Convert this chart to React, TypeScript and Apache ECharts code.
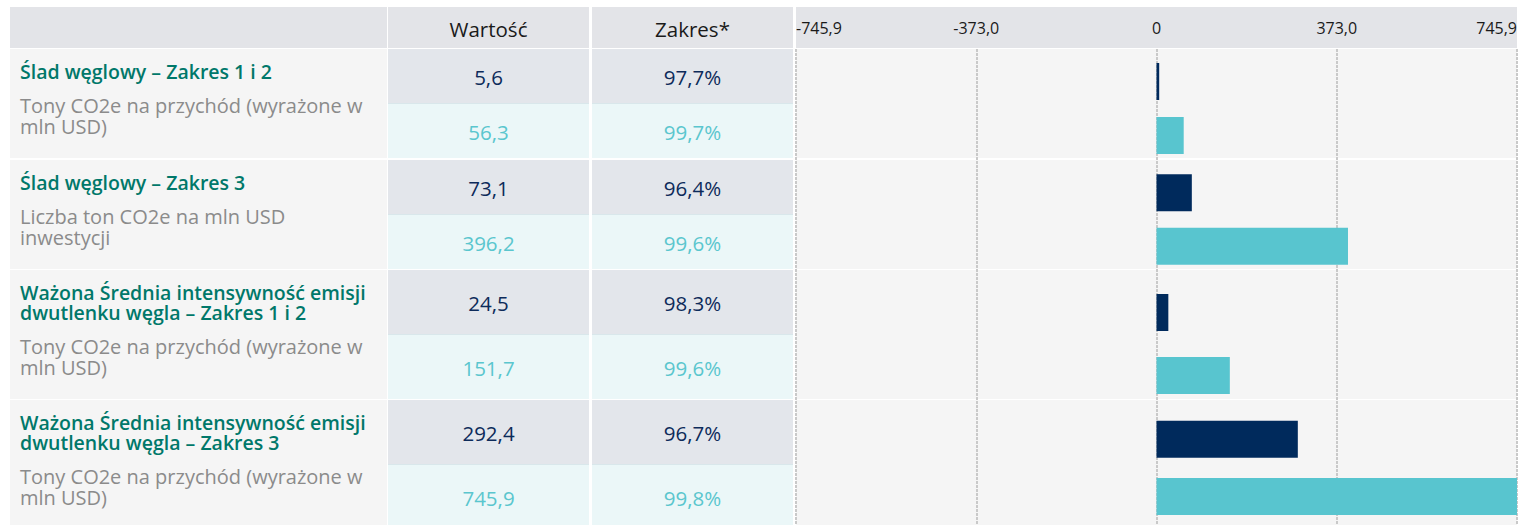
import React, { useEffect, useRef } from "react";
import * as echarts from "echarts";

// ---------- data ----------
const metricTitles = [
  "Ślad węglowy – Zakres 1 i 2",
  "Ślad węglowy – Zakres 3",
  "Ważona Średnia intensywność emisji\ndwutlenku węgla – Zakres 1 i 2",
  "Ważona Średnia intensywność emisji\ndwutlenku węgla – Zakres 3",
];
const metricUnits = [
  "Tony CO2e na przychód (wyrażone w\nmln USD)",
  "Liczba ton CO2e na mln USD\ninwestycji",
  "Tony CO2e na przychód (wyrażone w\nmln USD)",
  "Tony CO2e na przychód (wyrażone w\nmln USD)",
];
const columnHeaders = ["Wartość", "Zakres*"];
const rowCategories = ["Fundusz", "Benchmark"];
const fundValues = [5.6, 73.1, 24.5, 292.4];
const benchmarkValues = [56.3, 396.2, 151.7, 745.9];
const fundCoverage = [97.7, 96.4, 98.3, 96.7];
const benchmarkCoverage = [99.7, 99.6, 99.6, 99.8];
const axisMax = 745.9;
const tickLabels = ["-745,9", "-373,0", "0", "373,0", "745,9"];

// ---------- layout / styles ----------
const W = 1527;
const H = 525;
const LEFT_X = 10, LEFT_W = 377;
const VAL_X = 388, VAL_W = 201;
const COV_X = 592, COV_W = 201;
const CHART_X = 796, CHART_W = 721;
const HEADER_Y = 7, HEADER_H = 41;
const groupTops = [49, 160, 270, 400];
const groupHeights = [109, 109, 129, 129];
const darkHeights = [54, 54, 64, 64];
const barGridTops = [54.5, 166, 281, 410.5];
const barGridHeights = [108, 107, 126, 128];

const FONT = "'Open Sans', 'Noto Sans', sans-serif";
const SIZE_TITLE = 19.5;
const SIZE_UNIT = 20;
const SIZE_CELL = 20.5;
const SIZE_AXIS = 16;
const C_HEADER = "#e3e4e8";
const C_LEFT = "#f5f5f5";
const C_DARKCELL = "#e3e6eb";
const C_LIGHTCELL = "#ebf7f8";
const C_SEP = "#d9e7eb";
const C_CHARTBG = "#f5f5f5";
const C_TITLE = "#00786a";
const C_UNIT = "#8b8b8b";
const C_DARK = "#002a5c";
const C_LIGHT = "#58c5cf";
const C_DARKTXT = "#0d2b5a";
const C_LIGHTTXT = "#5ac6ce";

const fmt = (v: number) => v.toFixed(1).replace(".", ",");

function rect(x: number, y: number, w: number, h: number, fill: string) {
  return { type: "rect", z: 0, silent: true, shape: { x, y, width: w, height: h }, style: { fill } };
}
function text(str: string, x: number, y: number, o: any) {
  return {
    type: "text",
    z: 10,
    silent: true,
    x,
    y,
    style: {
      text: str,
      fontFamily: FONT,
      fontSize: o.size,
      fontWeight: o.weight || "normal",
      fill: o.color,
      align: o.align || "left",
      textAlign: o.align || "left",
      verticalAlign: o.valign || "middle",
      textVerticalAlign: o.valign || "middle",
      lineHeight: o.lh,
    },
  };
}

export default function App() {
  const ref = useRef<HTMLDivElement>(null);
  useEffect(() => {
    if (!ref.current) return;
    const chart = echarts.init(ref.current, null, { renderer: "svg" });

    const graphics: any[] = [];
    // header
    graphics.push(rect(LEFT_X, HEADER_Y, LEFT_W, HEADER_H, C_HEADER));
    graphics.push(rect(VAL_X, HEADER_Y, VAL_W, HEADER_H, C_HEADER));
    graphics.push(rect(COV_X, HEADER_Y, COV_W, HEADER_H, C_HEADER));
    graphics.push(rect(CHART_X, HEADER_Y, CHART_W, HEADER_H, C_HEADER));
    graphics.push(text(columnHeaders[0], VAL_X + VAL_W / 2, HEADER_Y + HEADER_H / 2 + 1, { size: SIZE_CELL, color: "#1a1a1a", align: "center" }));
    graphics.push(text(columnHeaders[1], COV_X + COV_W / 2, HEADER_Y + HEADER_H / 2 + 1, { size: SIZE_CELL, color: "#1a1a1a", align: "center" }));

    metricTitles.forEach((title, i) => {
      const top = groupTops[i];
      const gh = groupHeights[i];
      const dh = darkHeights[i];
      const lightTop = top + dh + 1;
      const lh = gh - dh - 1;
      graphics.push(rect(LEFT_X, top, LEFT_W, gh, C_LEFT));
      graphics.push(rect(VAL_X, top, VAL_W, dh, C_DARKCELL));
      graphics.push(rect(COV_X, top, COV_W, dh, C_DARKCELL));
      graphics.push(rect(VAL_X, top + dh, VAL_W, 1, C_SEP));
      graphics.push(rect(COV_X, top + dh, COV_W, 1, C_SEP));
      graphics.push(rect(VAL_X, lightTop, VAL_W, lh, C_LIGHTCELL));
      graphics.push(rect(COV_X, lightTop, COV_W, lh, C_LIGHTCELL));
      graphics.push(rect(CHART_X, top, CHART_W, gh, C_CHARTBG));

      const titleLines = title.split("\n").length;
      graphics.push(text(title, 20, top + 22 - 10, { size: SIZE_TITLE, weight: 600, color: C_TITLE, valign: "top", lh: 20 }));
      graphics.push(
        text(metricUnits[i], 20, top + 22 + 20 * titleLines + 14 - 10.5, { size: SIZE_UNIT, color: C_UNIT, valign: "top", lh: 21 })
      );

      graphics.push(text(fmt(fundValues[i]), VAL_X + VAL_W / 2, top + dh / 2 + 1, { size: SIZE_CELL, color: C_DARKTXT, align: "center" }));
      graphics.push(text(fmt(fundCoverage[i]) + "%", COV_X + COV_W / 2, top + dh / 2 + 1, { size: SIZE_CELL, color: C_DARKTXT, align: "center" }));
      graphics.push(text(fmt(benchmarkValues[i]), VAL_X + VAL_W / 2, lightTop + lh / 2 + 1, { size: SIZE_CELL, color: C_LIGHTTXT, align: "center" }));
      graphics.push(text(fmt(benchmarkCoverage[i]) + "%", COV_X + COV_W / 2, lightTop + lh / 2 + 1, { size: SIZE_CELL, color: C_LIGHTTXT, align: "center" }));
    });

    const grids: any[] = [];
    const xAxes: any[] = [];
    const yAxes: any[] = [];
    const series: any[] = [];

    metricTitles.forEach((_, i) => {
      grids.push({ left: CHART_X, width: CHART_W, top: barGridTops[i], height: barGridHeights[i], containLabel: false });
      xAxes.push({
        gridIndex: i,
        type: "value",
        min: -axisMax,
        max: axisMax,
        interval: axisMax / 2,
        show: false,
        splitLine: { show: false },
      });
      yAxes.push({ gridIndex: i, type: "category", data: rowCategories, inverse: true, show: false });
      series.push({
        type: "bar",
        name: metricTitles[i],
        xAxisIndex: i,
        yAxisIndex: i,
        barWidth: 37,
        z: 3,
        data: [
          { value: fundValues[i], itemStyle: { color: C_DARK } },
          { value: benchmarkValues[i], itemStyle: { color: C_LIGHT } },
        ],
      });
    });

    // overlay grid for gridlines + top axis labels
    grids.push({ left: CHART_X, width: CHART_W, top: groupTops[0], height: H - groupTops[0], containLabel: false });
    xAxes.push({
      gridIndex: 4,
      type: "value",
      position: "top",
      min: -axisMax,
      max: axisMax,
      interval: axisMax / 2,
      z: 1,
      axisLine: { show: false },
      axisTick: { show: false },
      axisLabel: {
        show: true,
        margin: 13,
        fontFamily: FONT,
        fontSize: SIZE_AXIS,
        color: "#1a1a1a",
        showMinLabel: true,
        showMaxLabel: true,
        alignMinLabel: "left",
        alignMaxLabel: "right",
        formatter: (_v: number, idx: number) => tickLabels[idx] ?? "",
      },
      splitLine: { show: true, lineStyle: { color: "#c9c9c9", width: 2, type: [3, 1] } },
    });
    yAxes.push({ gridIndex: 4, type: "value", show: false, min: 0, max: 1 });

    chart.setOption({
      animation: false,
      backgroundColor: "#ffffff",
      grid: grids,
      xAxis: xAxes,
      yAxis: yAxes,
      series,
      graphic: { elements: graphics },
    });
    return () => chart.dispose();
  }, []);

  return <div ref={ref} style={{ position: "absolute", left: 0, top: 0, width: W, height: H }} />;
}
